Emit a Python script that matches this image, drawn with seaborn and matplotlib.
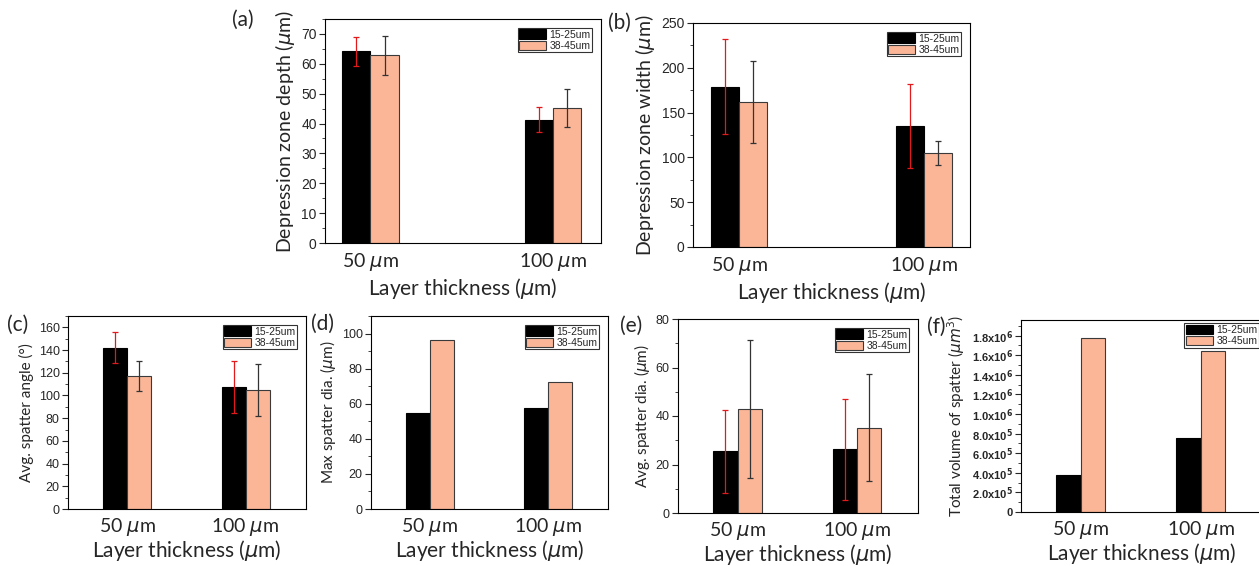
import pandas as pd
import matplotlib
matplotlib.use("Agg")
import matplotlib.pyplot as plt
import seaborn as sns
from matplotlib.patches import Patch
from matplotlib.ticker import MultipleLocator

sns.set_style("ticks")
plt.rcParams["font.family"] = ["Liberation Sans", "DejaVu Sans"]
plt.rcParams["mathtext.fontset"] = "dejavusans"

# ---- data ----
thickness = ["50 $\\mu$m", "100 $\\mu$m"]
powders = ["15-25um", "38-45um"]

depth_mean = {"15-25um": [64.2, 41.3], "38-45um": [62.8, 45.1]}
depth_err = {"15-25um": [4.8, 4.2], "38-45um": [6.5, 6.4]}

width_mean = {"15-25um": [179, 135], "38-45um": [162, 105]}
width_err = {"15-25um": [53, 47], "38-45um": [45.5, 13]}

angle_mean = {"15-25um": [142, 107.5], "38-45um": [117, 105]}
angle_err = {"15-25um": [13.7, 22.5], "38-45um": [13, 22.7]}

maxdia = {"15-25um": [54.8, 57.6], "38-45um": [96.5, 72.5]}

avgdia_mean = {"15-25um": [25.5, 26.3], "38-45um": [43, 35.2]}
avgdia_err = {"15-25um": [17.1, 20.75], "38-45um": [28.5, 22]}

volume = {"15-25um": [3.8e5, 7.6e5], "38-45um": [1.78e6, 1.64e6]}

BLACK = "#000000"
PEACH = "#FBB698"
ERR_COL = {"15-25um": "#e31a1c", "38-45um": "#333333"}
EDGE_COL = {"15-25um": "#000000", "38-45um": "#3a3a3a"}

W, H = 1259, 566
fig = plt.figure(figsize=(W / 100, H / 100), dpi=100)


def box(l, r, t, b):
    return [l / W, (H - b) / H, (r - l) / W, (b - t) / H]


def to_frame(means):
    rows = []
    for p in powders:
        for t, v in zip(thickness, means[p]):
            rows.append({"thickness": t, "powder": p, "value": v})
    return pd.DataFrame(rows)


def panel(rect, means, errs, ylim, major, minor, ylabel, xlim, bw,
          ylab_size, tick_size, letter, letter_xy, xpad, xlabpad,
          volume_ticks=False, legpad=0.85):
    ax = fig.add_axes(box(*rect))
    sns.barplot(data=to_frame(means), x="thickness", y="value", hue="powder",
                order=thickness, hue_order=powders, palette=[BLACK, PEACH],
                saturation=1, width=bw, errorbar=None, legend=False, ax=ax)
    for p, cont in zip(powders, ax.containers):
        for i, bar in enumerate(cont):
            bar.set_edgecolor(EDGE_COL[p])
            bar.set_linewidth(0.8)
            if errs is not None:
                ax.errorbar(bar.get_x() + bar.get_width() / 2, bar.get_height(),
                            yerr=errs[p][i], fmt="none", ecolor=ERR_COL[p],
                            elinewidth=0.9, capsize=2.5, capthick=0.9, zorder=5)
    ax.set_xlim(*xlim)
    ax.set_ylim(*ylim)
    ax.yaxis.set_major_locator(MultipleLocator(major))
    ax.yaxis.set_minor_locator(MultipleLocator(minor))
    ax.tick_params(axis="y", which="major", length=4, width=0.8,
                   labelsize=tick_size, pad=2)
    ax.tick_params(axis="y", which="minor", length=2, width=0.6)
    ax.tick_params(axis="x", length=0, pad=xpad)
    for lab in ax.get_xticklabels():
        lab.set_fontfamily("Lato")
        lab.set_fontsize(14)
    if volume_ticks:
        ticks = ax.get_yticks()
        labels = []
        for v in ticks:
            if v == 0:
                labels.append("0")
            else:
                e = 6 if v >= 1e6 else 5
                labels.append(f"{v / 10 ** e:.1f}x10$^{{\\mathbf{{{e}}}}}$")
        ax.set_yticks(ticks)
        ax.set_yticklabels(labels, fontweight="bold", fontsize=tick_size)
        ax.set_ylim(*ylim)
    for s in ax.spines.values():
        s.set_visible(True)
        s.set_linewidth(0.8)
        s.set_color("black")
    ax.set_xlabel("Layer thickness ($\\mu$m)", fontfamily="Lato", fontsize=15,
                  labelpad=xlabpad)
    ax.set_ylabel(ylabel, fontfamily="Lato", fontsize=ylab_size, labelpad=3)
    handles = [Patch(facecolor=BLACK, edgecolor="black", lw=0.8),
               Patch(facecolor=PEACH, edgecolor="#3a3a3a", lw=0.8)]
    leg = ax.legend(handles, powders, loc="upper right", fontsize=7.5,
                    frameon=True, fancybox=False, edgecolor="black",
                    handlelength=2.6, handleheight=1.0, handletextpad=0.3,
                    labelspacing=0.1, borderpad=0.15, borderaxespad=legpad)
    leg.get_frame().set_linewidth(0.8)
    fig.text(letter_xy[0] / W, 1 - letter_xy[1] / H, letter, fontfamily="Lato",
             fontsize=15, ha="center", va="center")
    return ax


top_xlim = (-0.249, 1.262)
bot_xlim = (-0.498, 1.51)

panel((325, 601, 19, 243), depth_mean, depth_err, (0, 75), 10, 5,
      "Depression zone depth ($\\mu$m)", top_xlim, 0.31, 14, 10, "(a)", (243, 20),
      6, 2)
panel((693, 970, 23, 247), width_mean, width_err, (0, 250), 50, 25,
      "Depression zone width ($\\mu$m)", (-0.249, 1.248), 0.30, 14, 10, "(b)",
      (619, 23), 6, 2)
panel((68, 306, 316, 509), angle_mean, angle_err, (0, 170), 20, 10,
      "Avg. spatter angle (\u00b0)", bot_xlim, 0.405, 11, 9, "(c)", (18, 325),
      5, 0)
panel((371, 608, 316, 509), maxdia, None, (0, 110), 20, 10,
      "Max spatter dia. ($\\mu$m)", bot_xlim, 0.405, 11, 9, "(d)", (323, 324),
      5, 0)
panel((678, 918, 319, 513), avgdia_mean, avgdia_err, (0, 80), 20, 10,
      "Avg. spatter dia. ($\\mu$m)", bot_xlim, 0.405, 11, 9, "(e)", (631, 326),
      5, 0)
panel((1021, 1262, 320, 512), volume, None, (0, 1.96e6), 2e5, 1e5,
      "Total volume of spatter ($\\mu m^3$)", bot_xlim, 0.405, 11, 8, "(f)",
      (936, 327), 5, 0, volume_ticks=True, legpad=0.3)

fig.savefig("out.png", dpi=100)
